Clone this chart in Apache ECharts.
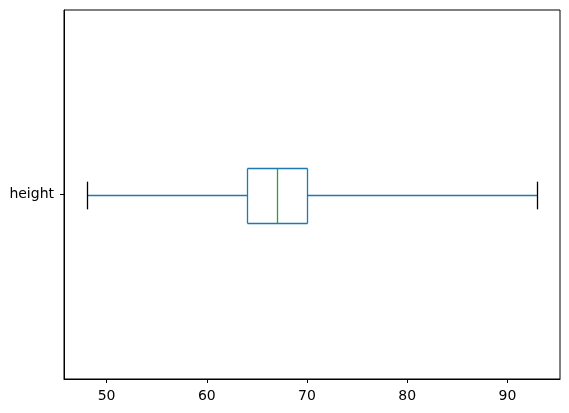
<!DOCTYPE html>
<html lang="en">
<head>
    <meta charset="UTF-8">
    <title>Height boxplot</title>
    <script src="https://cdn.jsdelivr.net/npm/echarts@6.0.0/dist/echarts.min.js"></script>
    <style>
        body {
            margin: 0;
            background: #fff;
        }
        #chart {
            width: 569px;
            height: 413px;
        }
    </style>
</head>
<body>
    <div id="chart"></div>

    <script>
        // boxplot stats
        var categories = ['height'];
        var whiskerLow = [48];
        var q1 = [64];
        var median = [67];
        var q3 = [70];
        var whiskerHigh = [93];
        var xTicks = [50, 60, 70, 80, 90];

        var chart = echarts.init(document.getElementById('chart'));

        var data = categories.map(function (c, i) {
            return [i, whiskerLow[i], q1[i], median[i], q3[i], whiskerHigh[i]];
        });

        function crisp(v) {
            return Math.round(v) + 0.5;
        }

        function lineEl(x1, y1, x2, y2, color) {
            return {
                type: 'line',
                shape: { x1: x1, y1: y1, x2: x2, y2: y2 },
                style: { stroke: color, lineWidth: 1.3, fill: 'none' }
            };
        }

        function renderItem(params, api) {
            var idx = api.value(0);
            var band = api.size([0, 1])[1];
            var half = band * 0.15 / 2;
            var capHalf = half / 2;
            var xLow = crisp(api.coord([api.value(1), idx])[0]);
            var xQ1 = crisp(api.coord([api.value(2), idx])[0]);
            var xMed = crisp(api.coord([api.value(3), idx])[0]);
            var xQ3 = crisp(api.coord([api.value(4), idx])[0]);
            var xHigh = crisp(api.coord([api.value(5), idx])[0]);
            var y = crisp(api.coord([api.value(1), idx])[1]);
            var top = crisp(y - half);
            var bottom = crisp(y + half);
            var blue = '#1f77b4';

            return {
                type: 'group',
                children: [
                    // whiskers
                    lineEl(xLow, y, xQ1, y, blue),
                    lineEl(xQ3, y, xHigh, y, blue),
                    // box
                    lineEl(xQ1, top, xQ3, top, blue),
                    lineEl(xQ1, bottom, xQ3, bottom, blue),
                    lineEl(xQ1, top, xQ1, bottom, blue),
                    lineEl(xQ3, top, xQ3, bottom, blue),
                    // median
                    lineEl(xMed, top, xMed, bottom, '#2ca02c'),
                    // caps
                    lineEl(xLow, y - capHalf, xLow, y + capHalf, '#000'),
                    lineEl(xHigh, y - capHalf, xHigh, y + capHalf, '#000')
                ]
            };
        }

        var option = {
            animation: false,
            grid: {
                left: 64,
                right: 9,
                top: 10,
                bottom: 34,
                show: true,
                borderColor: '#000',
                borderWidth: 1
            },
            xAxis: {
                type: 'value',
                min: 45.75,
                max: 95.25,
                splitLine: { show: false },
                axisLine: { show: true, lineStyle: { color: '#000', width: 1 } },
                axisTick: {
                    show: true,
                    length: 4,
                    lineStyle: { color: '#000' },
                    customValues: xTicks
                },
                axisLabel: {
                    color: '#000',
                    fontSize: 14,
                    fontFamily: 'DejaVu Sans',
                    margin: 10,
                    customValues: xTicks
                }
            },
            yAxis: {
                type: 'category',
                data: categories,
                axisLine: { show: true, lineStyle: { color: '#000', width: 1 } },
                axisTick: { show: true, length: 4, alignWithLabel: true, lineStyle: { color: '#000' } },
                axisLabel: {
                    color: '#000',
                    fontSize: 14,
                    fontFamily: 'DejaVu Sans',
                    margin: 10
                },
                splitLine: { show: false }
            },
            series: [{
                type: 'custom',
                renderItem: renderItem,
                encode: { x: [1, 2, 3, 4, 5], y: 0 },
                data: data
            }]
        };

        chart.setOption(option);
    </script>
</body>
</html>
